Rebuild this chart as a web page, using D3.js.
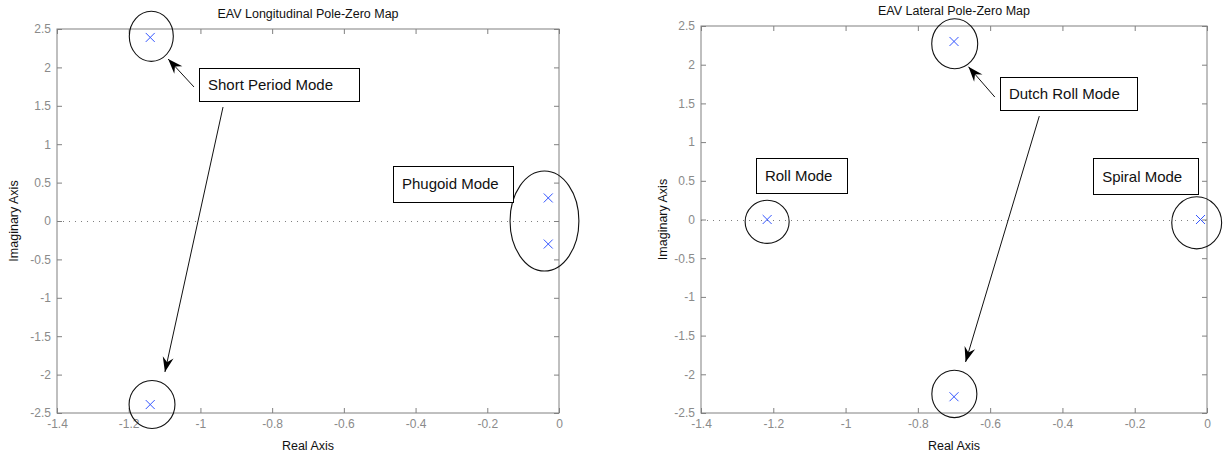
<!DOCTYPE html>
<html>
<head>
<meta charset="utf-8">
<script src="https://cdn.jsdelivr.net/npm/d3@7"></script>
<style>
  body { margin: 0; background: #fff; }
  svg { display: block; font-family: "Liberation Sans", Arial, sans-serif; }
</style>
</head>
<body>
<svg id="chart" width="1225" height="458"></svg>
<script>
const xTicks = [-1.4, -1.2, -1, -0.8, -0.6, -0.4, -0.2, 0];
const yTicks = [-2.5, -2, -1.5, -1, -0.5, 0, 0.5, 1, 1.5, 2, 2.5];

// poles [real, imag]
const longPoles = [[-1.14, 2.39], [-1.14, -2.39], [-0.03, 0.3], [-0.03, -0.3]];
const latPoles = [[-0.7, 2.3], [-0.7, -2.29], [-1.217, 0], [-0.018, 0]];

// annotation boxes, in axis units
const longBoxes = [
    { text: "Short Period Mode", x0: -1.004, x1: -0.558, y0: 1.992, y1: 1.562 },
    { text: "Phugoid Mode", x0: -0.463, x1: -0.128, y0: 0.716, y1: 0.247 }
];
const latBoxes = [
    { text: "Dutch Roll Mode", x0: -0.573, x1: -0.193, y0: 1.841, y1: 1.414 },
    { text: "Roll Mode", x0: -1.248, x1: -0.996, y0: 0.793, y1: 0.341 },
    { text: "Spiral Mode", x0: -0.315, x1: -0.025, y0: 0.793, y1: 0.328 }
];

// rings round the poles: centre and radii, in axis units
const longRings = [
    { cx: -1.137, cy: 2.405, rx: 0.0614, ry: 0.326 },
    { cx: -1.135, cy: -2.389, rx: 0.064, ry: 0.312 },
    { cx: -0.0405, cy: 0, rx: 0.096, ry: 0.651 }
];
const latRings = [
    { cx: -0.698, cy: 2.271, rx: 0.0636, ry: 0.323 },
    { cx: -0.699, cy: -2.254, rx: 0.0623, ry: 0.306 },
    { cx: -1.217, cy: -0.03, rx: 0.0609, ry: 0.278 },
    { cx: -0.0285, cy: -0.043, rx: 0.069, ry: 0.336 }
];

// arrows: from -> to, in axis units
const longArrows = [
    { x0: -1.018, y0: 1.745, x1: -1.09, y1: 2.109 },
    { x0: -0.937, y0: 1.484, x1: -1.099, y1: -1.966 }
];
const latArrows = [
    { x0: -0.587, y0: 1.582, x1: -0.660, y1: 1.974 },
    { x0: -0.464, y0: 1.336, x1: -0.668, y1: -1.841 }
];

const svg = d3.select("#chart");
const fmt = d => String(Math.round(d * 10) / 10);

function drawPanel(cfg) {
    const x = d3.scaleLinear().domain([-1.4, 0]).range([cfg.left, cfg.right]);
    const y = d3.scaleLinear().domain([-2.5, 2.5]).range([cfg.bottom, cfg.top]);
    const g = svg.append("g");

    // zero line
    g.append("line")
        .attr("x1", cfg.left).attr("x2", cfg.right)
        .attr("y1", Math.round(y(0)) + 0.5).attr("y2", Math.round(y(0)) + 0.5)
        .attr("stroke", "#808080").attr("stroke-dasharray", "1,5");

    const styleAxis = sel => {
        sel.select(".domain").remove();
        sel.selectAll(".tick line").attr("stroke", "#808080");
        sel.selectAll(".tick text").attr("fill", "#8a8a8a")
            .style("font-size", "12px").style("font-family", "Liberation Sans, Arial, sans-serif");
    };

    g.append("g").attr("transform", `translate(${cfg.left},0)`)
        .call(d3.axisLeft(y).tickValues(yTicks).tickFormat(fmt).tickSize(-5).tickPadding(6))
        .call(styleAxis);
    g.append("g").attr("transform", `translate(${cfg.right},0)`)
        .call(d3.axisRight(y).tickValues(yTicks).tickFormat("").tickSize(-5))
        .call(styleAxis);
    g.append("g").attr("transform", `translate(0,${cfg.bottom})`)
        .call(d3.axisBottom(x).tickValues(xTicks).tickFormat(fmt).tickSize(-5).tickPadding(6))
        .call(styleAxis);
    g.append("g").attr("transform", `translate(0,${cfg.top})`)
        .call(d3.axisTop(x).tickValues(xTicks).tickFormat("").tickSize(-5))
        .call(styleAxis);

    g.append("rect")
        .attr("x", cfg.left).attr("y", cfg.top)
        .attr("width", cfg.right - cfg.left).attr("height", cfg.bottom - cfg.top)
        .attr("fill", "none").attr("stroke", "#808080");

    // titles
    g.append("text")
        .attr("x", (cfg.left + cfg.right) / 2).attr("y", cfg.top - 11)
        .attr("text-anchor", "middle").style("font-size", "12.5px").attr("fill", "#111")
        .text(cfg.title);
    g.append("text")
        .attr("x", (cfg.left + cfg.right) / 2).attr("y", 450)
        .attr("text-anchor", "middle").style("font-size", "12.5px").attr("fill", "#111")
        .text("Real Axis");
    g.append("text")
        .attr("transform", `translate(${cfg.left - cfg.ylabOffset},${(cfg.top + cfg.bottom) / 2}) rotate(-90)`)
        .attr("text-anchor", "middle").attr("dy", "0.35em")
        .style("font-size", "12.5px").attr("fill", "#111")
        .text("Imaginary Axis");

    // rings
    g.selectAll("ellipse").data(cfg.rings).enter().append("ellipse")
        .attr("cx", d => x(d.cx)).attr("cy", d => y(d.cy))
        .attr("rx", d => x(d.rx) - x(0)).attr("ry", d => y(0) - y(d.ry))
        .attr("fill", "none").attr("stroke", "#111").attr("stroke-width", 1.1);

    // poles
    const s = 4.5;
    g.selectAll("path.pole").data(cfg.poles).enter().append("path")
        .attr("class", "pole")
        .attr("d", d => {
            const px = x(d[0]), py = y(d[1]);
            return `M${px - s},${py - s}L${px + s},${py + s}M${px - s},${py + s}L${px + s},${py - s}`;
        })
        .attr("stroke", "#3355ff").attr("stroke-width", 1).attr("fill", "none");

    // arrows
    cfg.arrows.forEach(a => {
        const x0 = x(a.x0), y0 = y(a.y0), x1 = x(a.x1), y1 = y(a.y1);
        const ang = Math.atan2(y1 - y0, x1 - x0) * 180 / Math.PI;
        g.append("line")
            .attr("x1", x0).attr("y1", y0).attr("x2", x1).attr("y2", y1)
            .attr("stroke", "#111").attr("stroke-width", 1);
        g.append("path")
            .attr("transform", `translate(${x1},${y1}) rotate(${ang})`)
            .attr("d", "M0,0L-15,-5.5L-10,0L-15,5.5Z")
            .attr("fill", "#000");
    });

    // boxes
    const box = g.selectAll("g.box").data(cfg.boxes).enter().append("g").attr("class", "box");
    box.append("rect")
        .attr("x", d => Math.round(x(d.x0)) + 0.5).attr("y", d => Math.round(y(d.y0)) + 0.5)
        .attr("width", d => Math.round(x(d.x1) - x(d.x0))).attr("height", d => Math.round(y(d.y1) - y(d.y0)))
        .attr("fill", "#fff").attr("stroke", "#000");
    box.append("text")
        .attr("x", d => x(d.x0) + 9).attr("y", d => (y(d.y0) + y(d.y1)) / 2)
        .attr("dy", "0.36em").style("font-size", "15px").attr("fill", "#111")
        .text(d => d.text);
}

drawPanel({
    left: 57, right: 559, top: 29, bottom: 413, ylabOffset: 43,
    title: "EAV Longitudinal Pole-Zero Map",
    poles: longPoles, boxes: longBoxes, rings: longRings, arrows: longArrows
});
drawPanel({
    left: 701, right: 1207, top: 26, bottom: 413, ylabOffset: 38,
    title: "EAV Lateral Pole-Zero Map",
    poles: latPoles, boxes: latBoxes, rings: latRings, arrows: latArrows
});
</script>
</body>
</html>
